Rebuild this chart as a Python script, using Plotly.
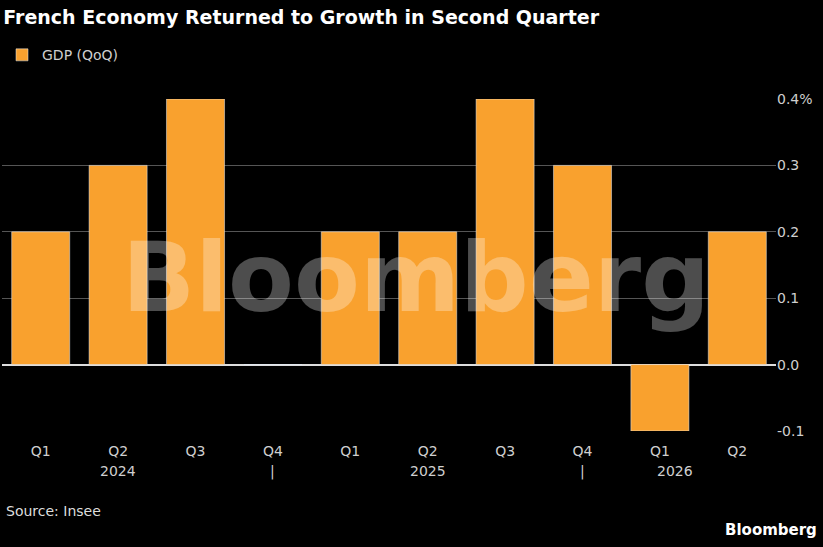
import plotly.graph_objects as go

quarters = ["Q1", "Q2", "Q3", "Q4", "Q1", "Q2", "Q3", "Q4", "Q1", "Q2"]
gdp_qoq = [0.2, 0.3, 0.4, 0.0, 0.2, 0.2, 0.4, 0.3, -0.1, 0.2]
years = ["2024", "2025", "2026"]
year_pos = [1, 5, 8.2]
divider_pos = [3, 7]
idx = list(range(len(quarters)))

fig = go.Figure()
fig.add_trace(go.Bar(x=idx, y=gdp_qoq, marker_color="#f9a12e", name="GDP (QoQ)",
                     showlegend=True))

fig.update_layout(
    width=823, height=547,
    paper_bgcolor="black", plot_bgcolor="black",
    margin=dict(l=2, r=47, t=99, b=116),
    bargap=0.25,
    font=dict(family="DejaVu Sans", color="#cfcfcf", size=14),
    title=dict(text="<b>French Economy Returned to Growth in Second Quarter</b>",
               x=0.004, xanchor="left", y=0.98, yanchor="top",
               font=dict(size=19, color="white")),
    legend=dict(x=0.0, y=1.18, xanchor="left", yanchor="top", orientation="h",
                font=dict(size=14, color="#cfcfcf"), bgcolor="rgba(0,0,0,0)"),
    xaxis=dict(range=[-0.5, 9.5], tickvals=idx, ticktext=quarters,
               showgrid=False, zeroline=False, ticks="", tickfont=dict(size=14),
               ticklabelstandoff=10),
    yaxis=dict(side="right", range=[-0.1, 0.4], tickvals=[-0.1, 0, 0.1, 0.2, 0.3, 0.4],
               ticktext=["-0.1", "0.0", "0.1", "0.2", "0.3", "0.4%"],
               gridcolor="#555555", zeroline=True, zerolinecolor="#dddddd",
               zerolinewidth=2, tickfont=dict(size=14)),
)

for yr, xp in zip(years, year_pos):
    fig.add_annotation(x=xp, y=-0.1, yref="y", yshift=-40, text=yr, showarrow=False,
                       font=dict(size=14, color="#cfcfcf"))
for xp in divider_pos:
    fig.add_annotation(x=xp, y=-0.1, yref="y", yshift=-40, text="|", showarrow=False,
                       font=dict(size=14, color="#cfcfcf"))

fig.add_annotation(x=0.535, y=0.46, xref="paper", yref="paper", text="<b>Bloomberg</b>",
                   showarrow=False, font=dict(size=96, color="rgba(255,255,255,0.3)"))
fig.add_annotation(x=0.003, y=-0.27, xref="paper", yref="paper", text="Source: Insee",
                   showarrow=False, xanchor="left", font=dict(size=14, color="#dddddd"))
fig.add_annotation(x=1.055, y=-0.33, xref="paper", yref="paper", text="<b>Bloomberg</b>",
                   showarrow=False, xanchor="right", font=dict(size=15, color="white"))

fig.write_html("out.html", config={"displayModeBar": False},
               post_script="document.body.style.margin='0';")
